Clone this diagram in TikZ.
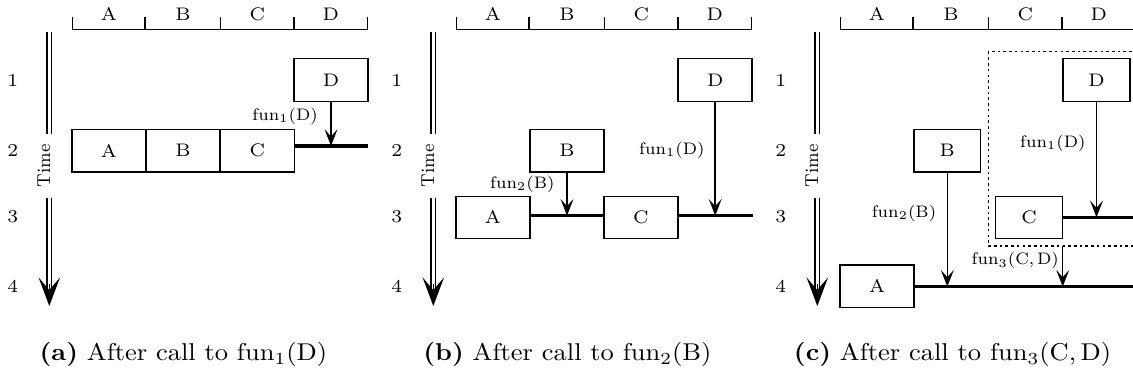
\documentclass[tikz,border=0pt]{standalone}
\usetikzlibrary{arrows.meta}
% small design size, enlarged: the wide, sturdy letters of the figure
\newcommand{\pic}[1]{\scalebox{1.14}[1.09]{#1}}
\newcommand{\vpic}[1]{\scalebox{1.0}[1.12]{#1}}
\newcommand{\capstr}[1]{\scalebox{1.09}[1]{#1}}
\newcommand{\fn}[2]{fun\textsubscript{#1}(#2)}

\begin{document}
\begin{tikzpicture}[x=0.42pt, y=-0.42pt,
  txt/.style={font=\fontsize{7}{8}\selectfont, inner sep=0pt},
  call/.style={font=\fontsize{7}{8}\selectfont, inner sep=0pt, anchor=east},
  subcap/.style={font=\fontsize{10.2}{12}\selectfont, inner sep=0pt},
  box/.style={draw, line width=0.6pt, inner sep=0pt, minimum width=31.08pt,
              minimum height=17.85pt, font=\fontsize{7}{8}\selectfont},
  nbox/.style={box, minimum width=28pt},
  axis/.style={line width=0.6pt},
  calls/.style={line width=0.6pt, -{Stealth[length=7pt, width=5.4pt, inset=3pt]}},
  result/.style={line width=1.4pt},
  timeline/.style={line width=0.6pt, double, double distance=1.3pt},
  timehead/.style={line width=0.5pt, -{Stealth[length=12pt, width=9pt, inset=5.3pt]}},
  region/.style={line width=0.6pt, dash pattern=on 1.1pt off 1.3pt}
]
\useasboundingbox (0,0) rectangle (1133,378);

% ---------- common frame: lanes on top, time axis on the left ----------
\foreach \p/\dx in {a/0, b/384, c/768} {
  \begin{scope}[xshift=\dx*0.42pt]
    \draw[axis] (72.7,17.3) -- (72.7,29.3) -- (367.7,29.3) -- (367.7,17.3);
    \foreach \t in {145,220.7,294} \draw[axis] (\t,17.3) -- (\t,29.3);
    \node[txt] (\p-lA) at (108.9,14.5) {\pic{A}};
    \node[txt] (\p-lB) at (182.9,14.5) {\pic{B}};
    \node[txt] (\p-lC) at (257.4,14.5) {\pic{C}};
    \node[txt] (\p-lD) at (330.9,14.5) {\pic{D}};
    \node[txt] (\p-r1) at (12.7,80)    {\pic{1}};
    \node[txt] (\p-r2) at (12.7,150.5) {\pic{2}};
    \node[txt] (\p-r3) at (12.7,216.7) {\pic{3}};
    \node[txt] (\p-r4) at (12.7,286)   {\pic{4}};
    \node[txt, rotate=90, inner xsep=4.2pt] (\p-time) at (44,166) {\vpic{Time}};
    \coordinate (\p-tt) at (49.3,31.7);
    \coordinate (\p-tn) at (49.3,290);
    \coordinate (\p-tb) at (49.3,306);
    \draw[timeline] (\p-tt) -- (\p-tt |- \p-time.east);
    \draw[timeline] (\p-tt |- \p-time.west) -- (\p-tn);
    \draw[timehead] (49.3,284) -- (\p-tb);
  \end{scope}
}

% ---------- (a) ----------
\node[box] (a-D) at (331,80) {\pic{D}};
\node[box] (a-A) at (109,150.7) {\pic{A}};
\node[box] (a-B) at (183,150.7) {\pic{B}};
\node[box] (a-C) at (257.25,150.7) {\pic{C}};
\coordinate (a-end) at (368,146);
\draw[result] (a-C.east |- a-end) -- (a-end);
\draw[calls] (a-D.south) -- (a-D.south |- a-end);
\node[call] (a-f1) at (318.3,116) {\fn{1}{D}};
\node[subcap] (a-cap) at (183.4,354.5) {\capstr{\textbf{(a)} After call to \fn{1}{D}}};

% ---------- (b) ----------
\node[box] (b-D) at (715.2,80) {\pic{D}};
\node[box] (b-B) at (567,150.7) {\pic{B}};
\node[box] (b-A) at (493,217.5) {\pic{A}};
\node[box] (b-C) at (640.8,217.5) {\pic{C}};
\coordinate (b-end) at (752.7,215.7);
\draw[result] (b-A.east |- b-end) -- (b-C.west |- b-end);
\draw[result] (b-C.east |- b-end) -- (b-end);
\draw[calls] (b-B.south) -- (b-B.south |- b-end);
\draw[calls] (b-D.south) -- (b-D.south |- b-end);
\node[call] (b-f2) at (555,184) {\fn{2}{B}};
\node[call] (b-f1) at (705,150) {\fn{1}{D}};
\node[subcap] (b-cap) at (567.4,354.5) {\capstr{\textbf{(b)} After call to \fn{2}{B}}};

% ---------- (c) ----------
\coordinate (c-reg-nw) at (988.3,51.7);
\coordinate (c-reg-se) at (1140,246);
\draw[region] (c-reg-nw) rectangle (c-reg-se);
\node[nbox] (c-D) at (1096.5,80) {\pic{D}};
\node[nbox] (c-B) at (947.3,150.7) {\pic{B}};
\node[nbox] (c-C) at (1029,217.5) {\pic{C}};
\node[box] (c-A) at (877.2,286.3) {\pic{A}};
\coordinate (c-end3) at (1140,217.3);
\coordinate (c-end4) at (1140,286.7);
\draw[result] (c-C.east |- c-end3) -- (c-end3);
\draw[result] (c-A.east |- c-end4) -- (c-end4);
\draw[calls] (c-D.south) -- (c-D.south |- c-end3);
\draw[calls] (c-B.south) -- (c-B.south |- c-end4);
\coordinate (c-call3) at (1062.7,246);
\draw[calls] (c-call3) -- (c-call3 |- c-end4);
\node[call] (c-f1) at (1086,143) {\fn{1}{D}};
\node[call] (c-f2) at (936.7,213) {\fn{2}{B}};
\node[call] (c-f3) at (1059.3,260.5) {\fn{3}{C,\,D}};
\node[subcap] (c-cap) at (952.5,354.5) {\capstr{\textbf{(c)} After call to \fn{3}{C,\,D}}};
\end{tikzpicture}
\end{document}
